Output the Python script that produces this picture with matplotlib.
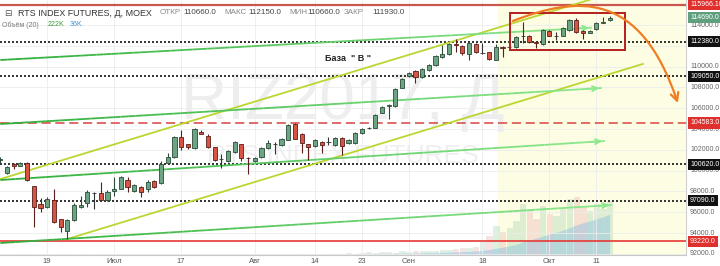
import numpy as np
import pandas as pd
import matplotlib
matplotlib.use('Agg')
import matplotlib.pyplot as plt
import matplotlib.colors as mcolors
import matplotlib.transforms as mtransforms
from matplotlib.collections import LineCollection
from matplotlib.patches import Rectangle, FancyArrowPatch
from matplotlib.path import Path

plt.rcParams['font.family'] = ['Liberation Sans', 'DejaVu Sans']

# дневные свечи RIZ2017
dates = pd.bdate_range('2017-06-08', '2017-10-13')
opens = [101020, 99770, 100640, 100440, 100730, 98520, 96790, 96500, 97170, 95350,
         94190, 95250, 96500, 96890, 97850, 97850, 97170, 98040, 98230, 99100,
         98040, 98420, 98230, 99000, 98810, 100730, 101310, 103230, 102560, 102170,
         103710, 103330, 102270, 101120, 100920, 101790, 102560, 101250, 100920, 101310,
         102170, 102560, 102460, 102940, 104480, 103520, 102560, 102370, 102750, 102750,
         102460, 103140, 102660, 102660, 103620, 104100, 104100, 105540, 106210, 106210,
         107940, 109100, 109580, 109000, 109670, 110150, 110920, 111210, 112170, 111980,
         111210, 112170, 111310, 111400, 110660, 111890, 111890, 111890, 112940, 112940,
         112370, 112170, 113420, 112940, 112940, 113520, 114480, 113420, 113230, 113620,
         114190, 114480]
highs = [101310, 100440, 100700, 100800, 100800, 98520, 97370, 97460, 98230, 95350,
         95300, 96890, 97560, 98140, 97900, 98900, 98140, 99390, 99450, 99390,
         98700, 98500, 99100, 99050, 100920, 101690, 103300, 103900, 102600, 104100,
         103900, 103500, 102300, 101600, 101950, 102850, 102560, 101300, 101300, 102250,
         102940, 102750, 103100, 104450, 104550, 103600, 102600, 103000, 102800, 103230,
         103230, 103200, 103000, 103700, 104100, 104200, 105400, 106200, 106400, 107900,
         108900, 109500, 109650, 109850, 110250, 111100, 112080, 112250, 112650, 112050,
         112370, 112250, 112270, 111450, 112150, 111950, 111950, 112900, 114290, 113000,
         112500, 113600, 113500, 113330, 113800, 114550, 114700, 113500, 113500, 114250,
         114770, 114900]
lows = [100730, 99670, 100150, 100400, 99000, 94580, 96020, 96400, 95000, 94100,
        93420, 95200, 96450, 96500, 96310, 97170, 97100, 97560, 98200, 97940,
        97940, 97460, 97940, 98300, 98700, 100700, 101250, 102000, 102100, 102100,
        103500, 102200, 100900, 100250, 100850, 101700, 100900, 99670, 100850, 101250,
        102100, 101600, 102400, 102900, 103000, 101690, 101020, 102300, 101690, 102460,
        102400, 101500, 102600, 102600, 103550, 104000, 104050, 105500, 104960, 106150,
        107900, 109000, 108420, 108950, 109600, 110100, 110850, 111150, 111400, 111120,
        110640, 111300, 111210, 110650, 110660, 110920, 111800, 111800, 112270, 112300,
        111790, 112100, 112900, 112560, 112900, 113450, 113250, 112650, 113200, 113550,
        114150, 114400]
closes = [101100, 100350, 100440, 100730, 99100, 96500, 96400, 97270, 95060, 94580,
          95250, 96690, 96690, 97940, 97850, 97170, 97940, 98230, 99390, 98420,
          98620, 97940, 98900, 98420, 100640, 101310, 103230, 102270, 102270, 104000,
          103520, 102270, 101020, 101120, 101890, 102750, 101210, 101210, 101210, 102170,
          102660, 102560, 103040, 104390, 103040, 102660, 102270, 102940, 102460, 102750,
          103140, 102370, 102940, 103620, 104000, 104100, 105350, 106120, 106310, 107850,
          108810, 109390, 109000, 109770, 110150, 111020, 111210, 112170, 112080, 111310,
          112270, 111400, 111310, 110730, 111930, 111800, 111890, 112850, 112940, 112370,
          112270, 113520, 112940, 112940, 113710, 114480, 113330, 113230, 113420, 114190,
          114290, 114690]
# объём, тыс. контрактов
volume = [2, 3, 2, 4, 3, 2, 5, 3, 2, 3, 4, 2, 3, 3, 2, 4, 3, 2, 3, 5,
          2, 3, 4, 3, 2, 3, 4, 2, 5, 3, 3, 2, 4, 3, 6, 3, 4, 2, 3, 4,
          5, 3, 4, 3, 5, 6, 4, 3, 5, 4, 6, 5,
          8, 6, 9, 11, 8, 12, 14, 10, 15, 12, 16,
          15, 18, 16, 22, 20,
          25, 30, 28, 35,
          55, 80,
          120, 95, 110, 140, 210, 180, 150, 200, 170, 160, 190, 230, 240, 200, 180,
          210, 190, 222]

tick_dates = ['2017-06-19', '2017-07-03', '2017-07-17', '2017-08-01', '2017-08-14',
              '2017-08-23', '2017-09-01', '2017-09-18', '2017-10-02', '2017-10-11']
tick_labels = ['19', 'Июл', '17', 'Авг', '14', '23', 'Сен', '18', 'Окт', '11']

# уровни
dotted_levels = [112380.0, 109050.0, 100620.0, 97090.0]
dashed_level = 104583.0
red_levels = [115966.1, 93220.0]
last_price = 114690.0

# трендовые линии: (x0, цена0, x1, цена1), x - номер свечи
yellow_lines = [(0.0, 99190, 90.0, 116812), (10.0, 93424, 95.96, 110255)]
green_lines = [(0.0, 110635, 88.34, 113741), (0.0, 104481, 89.84, 107943),
               (0.0, 99097, 90.28, 102847), (0.0, 93040, 91.33, 96693)]
# прогноз
forecast_x = [76.55, 86.1, 95.5, 101.18]
forecast_y = [114385, 116790, 117370, 106500]
box_x = [76.1, 93.27]
box_y = [111597, 115154]
future_start = 74.3

x = np.arange(len(dates))
o, h, l, c = map(np.array, (opens, highs, lows, closes))

fig = plt.figure(figsize=(7.2, 2.66), dpi=100)
ax = fig.add_axes([0, 11 / 266, 686 / 720, 255 / 266])
ax_v = ax.twinx()
ax.set_zorder(ax_v.get_zorder() + 1)
ax.patch.set_visible(False)
ax_v.patch.set_visible(True)
ax_v.patch.set_facecolor('white')

ax.set_xlim(-0.05, 102.4)
ax.set_ylim(91886, 116404)
ax_v.set_ylim(0, 1050)

# зона прогноза и объём
ax_v.axvspan(future_start, 102.4, color='#fdfde3', zorder=0)
up = c >= o
vcol = np.where(up, '#a8dcb5', '#f2b4b4')
ax_v.bar(x, volume, width=0.8, color=vcol, alpha=0.4, edgecolor='#c4c4c4',
         linewidth=0.4, zorder=1)
vma = pd.Series(volume).rolling(20, min_periods=1).mean()
ax_v.fill_between(x, 0, vma, color='#5aa7e8', alpha=0.3, linewidth=0, zorder=2)
ax_v.set_yticks([])
ax_v.tick_params(right=False, labelright=False)
for s in ax_v.spines.values():
    s.set_visible(False)

# сетка
ax.set_yticks(range(92000, 114001, 2000))
pos = np.searchsorted(dates, pd.to_datetime(tick_dates))
ax.set_xticks(pos)
ax.set_xticklabels(tick_labels)
ax.grid(True, color='#ececec', linewidth=0.6, zorder=0)
ax.tick_params(axis='y', left=False, right=False, labelleft=False, labelright=False)
ax.tick_params(axis='x', length=0, labelsize=5.5, colors='#555555', pad=2)
for side in ['top', 'left']:
    ax.spines[side].set_visible(False)
ax.spines['bottom'].set_color('#c8c8c8')
ax.spines['right'].set_color('#d0d0d0')
ax.spines['bottom'].set_linewidth(0.8)

# водяной знак
ax.text(0.5, 0.6, 'RIZ2017, Д', transform=ax.transAxes, fontsize=46, color='#eeeeee',
        ha='center', va='center', zorder=0.2)
ax.text(0.5, 0.39, 'RTS INDEX FUTURES', transform=ax.transAxes, fontsize=19,
        color='#efefef', ha='center', va='center', zorder=0.2)

# горизонтальные уровни
for lv in dotted_levels:
    ax.axhline(lv, color='#111111', lw=1.2, linestyle=(0, (1.2, 1.2)), zorder=2)
ax.axhline(dashed_level, color='#d9534f', lw=1.2, linestyle=(0, (5.5, 2.8)), zorder=2)
ax.axhline(red_levels[0], color='#c9574f', lw=1.6, zorder=2)
ax.axhline(red_levels[1], color='#e53935', lw=1.2, zorder=2)


def gradient_line(x0, y0, x1, y1, c0, c1, lw=1.3):
    n = 80
    xs = np.linspace(x0, x1, n + 1)
    ys = np.linspace(y0, y1, n + 1)
    segs = np.stack([np.column_stack([xs[:-1], ys[:-1]]),
                     np.column_stack([xs[1:], ys[1:]])], axis=1)
    a = np.array(mcolors.to_rgb(c0))
    b = np.array(mcolors.to_rgb(c1))
    cols = [a + (b - a) * t for t in np.linspace(0, 1, n)]
    ax.add_collection(LineCollection(segs, colors=cols, linewidths=lw, zorder=3))
    ax.annotate('', xy=(x1, y1), xytext=(x1 - (x1 - x0) * 0.03, y1 - (y1 - y0) * 0.03),
                arrowprops=dict(arrowstyle='->', color=c1, lw=lw, mutation_scale=9),
                zorder=3)


for x0, y0, x1, y1 in yellow_lines:
    ax.plot([x0, x1], [y0, y1], color='#bcd631', lw=1.3, zorder=3)
for x0, y0, x1, y1 in green_lines:
    gradient_line(x0, y0, x1, y1, '#2fae3a', '#8de88d')

# свечи
for i in range(len(x)):
    if c[i] > o[i]:
        fc, ec = '#6ba583', '#2c4a38'
    elif c[i] < o[i]:
        fc, ec = '#d75442', '#5a1f1a'
    else:
        fc, ec = '#333333', '#333333'
    ax.vlines(x[i], l[i], h[i], color=ec, lw=0.8, zorder=4)
    ax.bar(x[i], max(abs(c[i] - o[i]), 25), bottom=min(o[i], c[i]), width=0.62,
           color=fc, edgecolor=ec, linewidth=0.6, zorder=5)

# прогноз на продолжение
ax.add_patch(Rectangle((box_x[0], box_y[0]), box_x[1] - box_x[0], box_y[1] - box_y[0],
                       fill=False, edgecolor='#b51f1f', lw=1.4, zorder=6))
path = Path(list(zip(forecast_x, forecast_y)),
            [Path.MOVETO, Path.CURVE4, Path.CURVE4, Path.CURVE4])
ax.add_patch(FancyArrowPatch(path=path, arrowstyle='->', mutation_scale=14,
                             color='#ef7d22', lw=1.6, zorder=7))
ax.text(51.9, 110827, 'База  " В "', fontsize=6.5, fontweight='bold', color='#222222',
        ha='center', va='center', zorder=6)

# шкала цен справа
tr = mtransforms.blended_transform_factory(ax.transAxes, ax.transData)
for p in range(92000, 114001, 2000):
    ax.text(1.006, p, f'{p:.1f}', transform=tr, fontsize=5, color='#666666',
            va='center', ha='left', clip_on=False)
boxes = [(red_levels[0], '115966.10', '#e0302e'), (last_price, f'{last_price:.1f}', '#5f9f7d'),
         (red_levels[1], f'{red_levels[1]:.1f}', '#e0302e'),
         (dashed_level, f'{dashed_level:.1f}', '#e0302e')]
boxes += [(lv, f'{lv:.1f}', '#111111') for lv in dotted_levels]
for p, txt, col in boxes:
    ax.text(1.006, p, txt, transform=tr, fontsize=5, color='white', va='center',
            ha='left', clip_on=False, zorder=10,
            bbox=dict(boxstyle='square,pad=0.3', facecolor=col, edgecolor='none'))

# заголовок


def ftext(px, py, s, **kw):
    fig.text(px / 720, 1 - py / 266, s, va='center', ha='left', **kw)


ftext(4, 13, '⊟', fontsize=6.4, color='#555555')
ftext(18, 13, 'RTS INDEX FUTURES, Д, MOEX', fontsize=6.4, color='#333333')
for px, s, col in [(160, 'ОТКР', '#888888'), (183, '110660.0', '#444444'),
                   (224, 'МАКС', '#888888'), (248, '112150.0', '#444444'),
                   (289, 'МИН', '#888888'), (307, '110660.0', '#444444'),
                   (344, 'ЗАКР', '#888888'), (372, '111930.0', '#444444')]:
    ftext(px, 13, s, fontsize=5.8, color=col)
ftext(2, 25, 'Объём (20)', fontsize=5, color='#777777')
ftext(48, 25, '222K', fontsize=5, color='#3a9a3a')
ftext(70, 25, '36K', fontsize=5, color='#3d8fd1')

fig.savefig('out.png', dpi=100, facecolor='white')
